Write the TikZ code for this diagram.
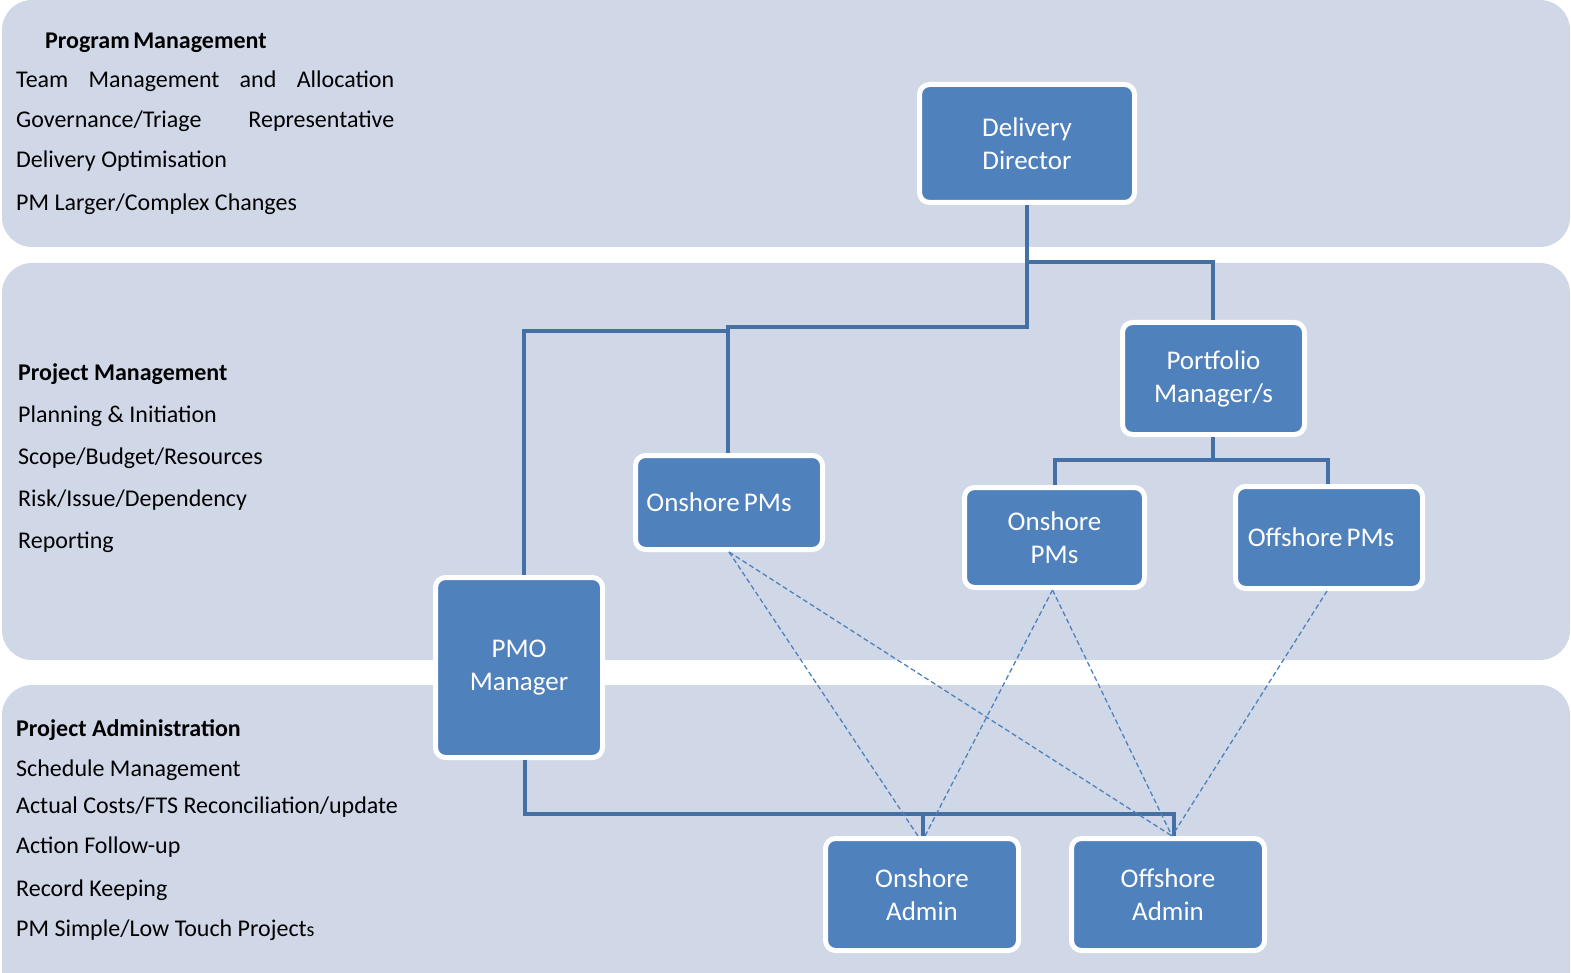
\documentclass[tikz,border=0pt]{standalone}
\usepackage{fontspec}
\setmainfont{Carlito}
\usetikzlibrary{positioning}
\definecolor{bandfill}{HTML}{D0D8E8}
\definecolor{boxblue}{HTML}{4F81BD}
\definecolor{connblue}{HTML}{4470A6}
\definecolor{dashblue}{HTML}{4F81BD}
\tikzset{
  band/.style={fill=bandfill, draw=none, rounded corners=30pt},
  orgbox/.style={rectangle, rounded corners=10pt, fill=boxblue, draw=white, line width=5pt,
     text=white, align=center, inner sep=0pt, font=\fontsize{27}{33}\selectfont},
  conn/.style={draw=connblue, line width=4.5pt},
  dashconn/.style={draw=dashblue, line width=1.3pt, dash pattern=on 5pt off 3pt},
  lefttxt/.style={anchor=west, inner sep=0pt, font=\fontsize{24}{28}\selectfont, text=black},
  headtxt/.style={anchor=west, inner sep=0pt, font=\fontsize{24}{28}\selectfont\bfseries, text=black},
}
\begin{document}
\begin{tikzpicture}[x=1pt, y=-1pt]
\useasboundingbox (0,0) rectangle (1571,973);
% bands
\fill[band] (2,0) rectangle (1570,247);
\fill[band] (2,263) rectangle (1570,660);
\fill[band] (2,685) rectangle (1570,1010);

% left texts band 1
\node[headtxt] (h1) at (45,43) {Program\hspace{-2pt} Management};
\node[lefttxt] (t11) at (16,81) {\makebox[378pt][s]{Team Management and Allocation}};
\node[lefttxt] (t12) at (16,121) {\makebox[378pt][s]{Governance/Triage Representative}};
\node[lefttxt] (t13) at (16,161) {Delivery Optimisation};
\node[lefttxt] (t14) at (16,204) {PM Larger/Complex Changes};
% band 2
\node[headtxt] (h2) at (18,374) {Project Management};
\node[lefttxt] (t21) at (18,416) {Planning \& Initiation};
\node[lefttxt] (t22) at (18,458) {Scope/Budget/Resources};
\node[lefttxt] (t23) at (18,500) {Risk/Issue/Dependency};
\node[lefttxt] (t24) at (18,542) {Reporting};
% band 3
\node[headtxt] (h3) at (16,730) {Project Administration};
\node[lefttxt] (t31) at (16,770) {Schedule Management};
\node[lefttxt] (t32) at (16,807) {Actual Costs/FTS Reconciliation/update};
\node[lefttxt] (t33) at (16,847) {Action Follow-up};
\node[lefttxt] (t34) at (16,890) {Record Keeping};
\node[lefttxt] (t35) at (16,930) {PM Simple/Low Touch Project{\fontsize{20}{24}\selectfont s}};

% boxes
\node[orgbox, minimum width=215pt, minimum height=118pt] (dd) at (1027,143.5) {Delivery\\Director};
\node[orgbox, minimum width=182pt, minimum height=112pt] (pf) at (1213.5,378.5) {Portfolio\\Manager/s};
\node[orgbox, minimum width=187pt, minimum height=94pt] (opl) at (729,502.5) {\hspace*{-20pt}Onshore\hspace{-2pt} PMs};
\node[orgbox, minimum width=180pt, minimum height=100pt] (opm) at (1054.5,537.5) {Onshore\\PMs};
\node[orgbox, minimum width=187pt, minimum height=102pt] (ofp) at (1329,537.5) {\hspace*{-16pt}Offshore\hspace{-2pt} PMs};
\node[orgbox, minimum width=167pt, minimum height=180pt] (pmo) at (519,667.5) {PMO\\Manager};
\node[orgbox, minimum width=193pt, minimum height=112pt] (oa) at (922,894.5) {Onshore\\Admin};
\node[orgbox, minimum width=193pt, minimum height=112pt] (ofa) at (1168,894.5) {Offshore\\Admin};

% junction coordinates
\coordinate (j1) at (1027,327);
\coordinate (j2) at (728,327);
\coordinate (j3) at (728,331);
\coordinate (j4) at (524,331);
\coordinate (j5) at (1027,262);
\coordinate (j6) at (1213,460);
\coordinate (j7) at (525,814);
\coordinate (j8) at (923,814);

% solid connectors
\draw[conn] (dd.south) -- (j1) -- (j2) -- (opl.north -| j2);
\draw[conn] (j3) -- (j4) -- (pmo.north -| j4);
\draw[conn] (j5) -| (pf.north -| j6);
\draw[conn] (pf.south -| j6) -- (j6);
\draw[conn] (opm.north -| 1055,0) |- (j6) -| (ofp.north -| 1328,0);
\draw[conn] (pmo.south -| j7) -- (j7) -| ([xshift=6pt]ofa.north);
\draw[conn] (j8) -- (oa.north -| j8);

% dashed connectors
\draw[dashconn] (opl.south) -- ([xshift=-4pt]oa.north);
\draw[dashconn] (opl.south) -- ([xshift=4pt]ofa.north);
\draw[dashconn] ([xshift=-2pt]opm.south) -- ([xshift=3pt]oa.north);
\draw[dashconn] ([xshift=-2pt]opm.south) -- ([xshift=4pt]ofa.north);
\draw[dashconn] ([xshift=-2pt]ofp.south) -- ([xshift=4pt]ofa.north);
\end{tikzpicture}
\end{document}
